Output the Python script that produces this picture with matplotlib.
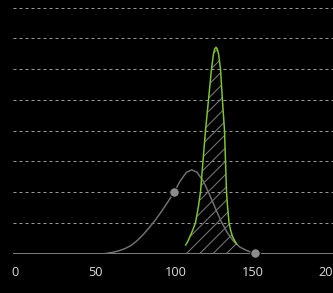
import matplotlib
matplotlib.use("Agg")
import matplotlib.pyplot as plt
import matplotlib.transforms as mtransforms

# ---- data ----
x_ticks = [0, 50, 100, 150, 200]
tick_labels = ["0", "50", "100", "150", "200"]
grid_levels = [1, 2, 3, 4, 5, 6, 7, 8]

gray_x = [62.3, 66, 70, 74, 78, 82, 86, 90, 94, 98, 102, 106.2, 110, 114, 117.6,
          121, 125, 129, 133, 137, 141, 145, 149, 153, 156, 158.7]
gray_y = [0.0, 0.03, 0.08, 0.15, 0.25, 0.41, 0.61, 0.84, 1.09, 1.37, 1.67, 2.0, 2.35, 2.63, 2.72,
          2.64, 2.36, 1.93, 1.46, 1.01, 0.65, 0.38, 0.20, 0.10, 0.04, 0.0]

green_x = [113.66, 115.16, 116.46, 118.22, 120.04, 121.86, 123.29, 124.92, 126.55, 128.50,
           130.45, 131.75, 132.60, 133.38, 134.16, 135.00, 136.30, 137.54, 138.91, 139.56,
           140.21, 140.92, 141.83, 142.88, 144.11, 145.41, 146.84]
green_y = [0.27, 0.40, 0.55, 0.75, 1.0, 1.5, 2.0, 3.0, 4.0, 5.0,
           6.0, 6.5, 6.66, 6.71, 6.66, 6.5, 6.0, 5.0, 4.0, 3.0,
           2.0, 1.5, 1.0, 0.75, 0.55, 0.42, 0.3]

dot_x = [106.2, 158.7]
dot_y = [2.0, 0.0]

# ---- figure ----
DPI = 80
W, H = 333, 293
def pt(px):
    return px * 72.0 / DPI

fig = plt.figure(figsize=(W / DPI, H / DPI), dpi=DPI, facecolor="black")
px0 = 11.0       # pixel of x=0
scale = 1.537    # pixels per unit
ax_left_px = 12.5
base_px = 253.3  # pixel row of y=0
unit_px = 30.7

ax = fig.add_axes([ax_left_px / W, (H - base_px) / H, (W - ax_left_px) / W, base_px / H])
ax.set_facecolor("black")
ax.set_xlim((ax_left_px - px0) / scale, (W - px0) / scale)
ax.set_ylim(0, base_px / unit_px)
for s in ax.spines.values():
    s.set_visible(False)
ax.set_xticks([])
ax.set_yticks([])

plt.rcParams['hatch.color'] = '#7c7c7c'
plt.rcParams['hatch.linewidth'] = pt(1.0)

for g in grid_levels:
    ax.axhline(g, color="#9a9a9a", lw=pt(1.0), dashes=(3, 3), zorder=1)
ax.axhline(0, color="#7a7a7a", lw=pt(1.0), zorder=2, clip_on=False)

ax.fill_between(green_x, 0, green_y, facecolor="none", edgecolor="#7c7c7c",
                hatch="//", linewidth=0, zorder=2)
ax.plot(gray_x, gray_y, color="#707070", lw=pt(1.5), zorder=3, clip_on=False)
ax.plot(green_x, green_y, color="#7fc62f", lw=pt(1.5), zorder=4)
ax.scatter(dot_x, dot_y, s=pt(9.5) ** 2, color="#8c8c8c", edgecolors="black",
           linewidths=pt(1.0), zorder=5, clip_on=False)

trans = mtransforms.blended_transform_factory(ax.transData, ax.transAxes)
ylab = -(275.7 - base_px) / base_px
for xv, lab in zip(x_ticks, tick_labels):
    ax.text(xv, ylab, lab, transform=trans, ha="left", va="baseline",
            color="#dcdcdc", fontsize=pt(12.8), family=["Open Sans", "DejaVu Sans"],
            clip_on=False)

fig.savefig("out.png", dpi=DPI, facecolor="black")
